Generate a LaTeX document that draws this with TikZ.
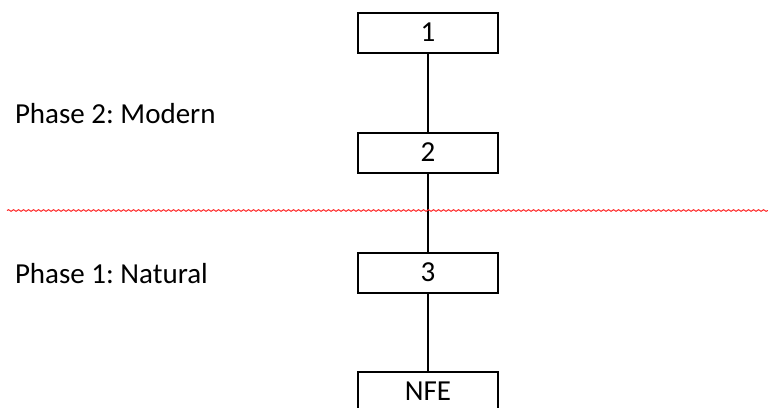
\documentclass[tikz,border=0pt]{standalone}
\usepackage{fontspec}
\setmainfont{Carlito}
\usetikzlibrary{math}
\usetikzlibrary{positioning}
\usetikzlibrary{decorations.pathmorphing}

\begin{document}
\frenchspacing
\begin{tikzpicture}[x=1pt,y=-1pt,line width=2pt,
  stage/.style={draw,minimum width=140pt,minimum height=40pt,inner sep=0pt},
  phase/.style={anchor=base west,inner sep=0pt}]

  \tikzmath{
    \cx     = 428;  % x of the chain of stages
    \gap    = 120;  % distance between two stages
    \firsty = 32.5; % y of the first stage
  }

  % picture frame
  \path[use as bounding box,clip] (0,0) rectangle (768,407);

  \fontsize{29}{34}\selectfont

  % the stages
  \node[stage] (s1)  at (\cx, \firsty) {1};
  \node[stage] (s2)  at (\cx, \firsty+\gap) {2};
  \node[stage] (s3)  at (\cx, \firsty+2*\gap) {3};
  \node[stage] (nfe) at (\cx, \firsty+3*\gap-1) {NFE};

  \draw (s1) -- (s2);
  \draw (s2) -- (s3);
  \draw (s3) -- (nfe);

  % boundary between the phases
  \coordinate (cutL) at (7, 210.5);
  \coordinate (cutR) at (768, 210.5);
  \draw[red!85!white, line width=1pt,
        decorate, decoration={snake, amplitude=0.8pt, segment length=5pt}]
    (cutL) -- (cutR);

  % phase labels
  \node[phase] (modern)  at (14, 123) {Phase 2: Modern};
  \node[phase] (natural) at (14, 283) {Phase 1: Natural};

\end{tikzpicture}
\end{document}
